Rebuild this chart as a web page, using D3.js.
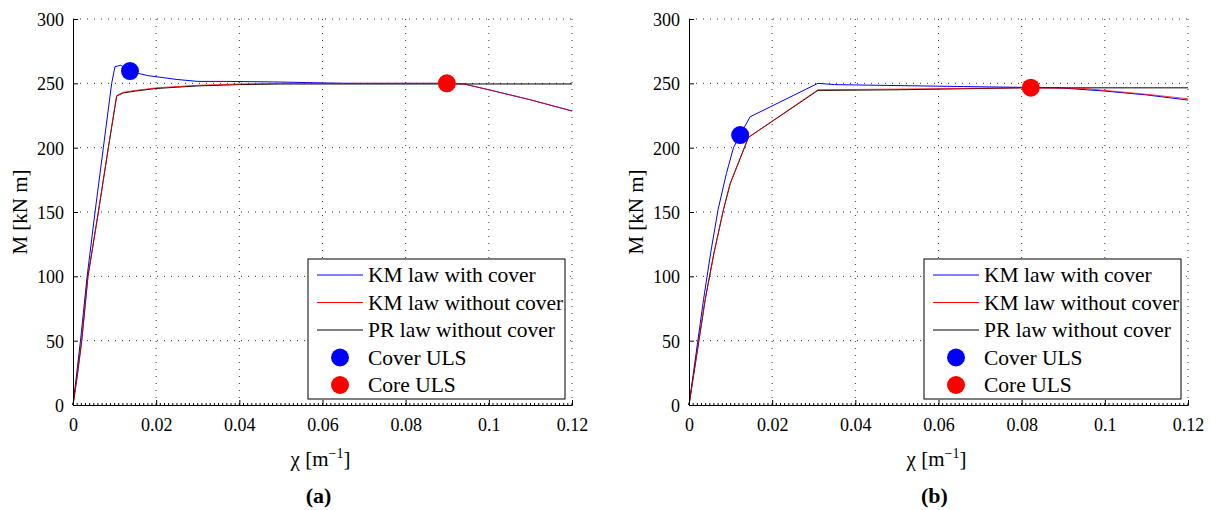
<!DOCTYPE html>
<html>
<head>
<meta charset="utf-8">
<script src="https://cdn.jsdelivr.net/npm/d3@7"></script>
<style>
body{margin:0;background:#fff;}
svg text{font-family:"Liberation Serif","Times New Roman",Times,"DejaVu Serif",serif !important;fill:#000;}
</style>
</head>
<body>
<svg id="chart" width="1211" height="510"></svg>
<script>
// axis ticks
var xTicks = [0, 0.02, 0.04, 0.06, 0.08, 0.1, 0.12];
var xTickLabels = ["0", "0.02", "0.04", "0.06", "0.08", "0.1", "0.12"];
var yTicks = [0, 50, 100, 150, 200, 250, 300];
var yTickLabels = ["0", "50", "100", "150", "200", "250", "300"];
var legendLabels = ["KM law with cover", "KM law without cover", "PR law without cover", "Cover ULS", "Core ULS"];
var panelLabels = ["(a)", "(b)"];

// panel (a)
var chiBlueA = [0, 0.0018, 0.0034, 0.0053, 0.0073, 0.0093, 0.0101, 0.0115, 0.014, 0.018, 0.025, 0.03, 0.037, 0.05, 0.065, 0.09, 0.094, 0.1, 0.11, 0.12];
var mBlueA   = [0, 50, 100, 150, 200, 250, 263, 264, 259, 256, 253, 251.5, 251.5, 251, 250, 250, 249.5, 245, 237.2, 228.5];
var chiRedA  = [0, 0.001, 0.0021, 0.0036, 0.0061, 0.0085, 0.0105, 0.012, 0.015, 0.02, 0.025, 0.03, 0.04, 0.05, 0.09, 0.094, 0.1, 0.11, 0.12];
var mRedA    = [0, 22, 50, 100, 150, 200, 240.5, 243, 244.5, 246.5, 247.5, 248.5, 249.5, 250, 250, 249.5, 245, 237.2, 228.5];
var chiBlackA = [0, 0.001, 0.0021, 0.0036, 0.0061, 0.0085, 0.0105, 0.012, 0.015, 0.02, 0.025, 0.03, 0.04, 0.05, 0.12];
var mBlackA   = [0, 22, 50, 100, 150, 200, 240, 242.5, 244, 246, 247, 248, 249, 249.5, 249.5];
var coverUlsA = [0.0137, 259.5];
var coreUlsA  = [0.0899, 250];

// panel (b)
var chiBlueB = [0, 0.0017, 0.0035, 0.0052, 0.007, 0.009, 0.0107, 0.0123, 0.0147, 0.031, 0.035, 0.045, 0.066, 0.089, 0.1, 0.11, 0.12];
var mBlueB   = [0, 40, 82, 118, 152, 180, 200, 210, 224, 250, 249, 248.5, 247.5, 246.5, 244, 241, 237];
var chiRedB  = [0, 0.002, 0.0039, 0.006, 0.0083, 0.0099, 0.0143, 0.031, 0.05, 0.08, 0.095, 0.1, 0.11, 0.12];
var mRedB    = [0, 42, 82, 118, 152, 172, 208, 245, 245.5, 246.5, 246, 244.5, 241.5, 238];
var chiBlackB = [0, 0.002, 0.0039, 0.006, 0.0083, 0.0099, 0.0143, 0.031, 0.05, 0.08, 0.12];
var mBlackB   = [0, 42, 82, 118, 152, 172, 208, 244.5, 245, 246.5, 246.5];
var coverUlsB = [0.0123, 209.8];
var coreUlsB  = [0.0822, 246.6];

var W = 499, H = 386;
var FONT = "'Liberation Serif','Times New Roman',Times,'DejaVu Serif',serif";
var svg = d3.select("#chart").attr("font-family", FONT);

function zip(xs, ys){
    return xs.map(function(v, i){ return [v, ys[i]]; });
}

function drawPanel(left, top, p){
    var g = svg.append("g").attr("transform", "translate(" + left + "," + top + ")");
    var x = d3.scaleLinear().domain([0, 0.12]).range([0, W]);
    var y = d3.scaleLinear().domain([0, 300]).range([H, 0]);

    // dotted grid
    g.selectAll("line.gx").data(xTicks.slice(1)).enter().append("line")
        .attr("x1", function(d){ return x(d); }).attr("x2", function(d){ return x(d); })
        .attr("y1", 0).attr("y2", H)
        .style("stroke", "#333").style("stroke-width", 1).style("stroke-dasharray", "1,6");
    g.selectAll("line.gy").data(yTicks.slice(1)).enter().append("line")
        .attr("x1", 0).attr("x2", W)
        .attr("y1", function(d){ return y(d); }).attr("y2", function(d){ return y(d); })
        .style("stroke", "#333").style("stroke-width", 1).style("stroke-dasharray", "1,6");

    // curves
    var line = d3.line().x(function(d){ return x(d[0]); }).y(function(d){ return y(d[1]); });
    var series = [
        {pts: zip(p.chiBlue, p.mBlue), color: "#0000ff"},
        {pts: zip(p.chiBlack, p.mBlack), color: "#000000"},
        {pts: zip(p.chiRed, p.mRed), color: "#ff0000", op: 0.75}
    ];
    g.selectAll("path.curve").data(series).enter().append("path")
        .attr("d", function(d){ return line(d.pts); })
        .style("fill", "none").style("stroke", function(d){ return d.color; })
        .style("stroke-opacity", function(d){ return d.op || 1; })
        .style("stroke-width", 1);

    // ULS points
    g.selectAll("circle.uls").data([{p: p.cover, c: "#0000ff"}, {p: p.core, c: "#ff0000"}]).enter()
        .append("circle")
        .attr("cx", function(d){ return x(d.p[0]); })
        .attr("cy", function(d){ return y(d.p[1]); })
        .attr("r", 9)
        .style("fill", function(d){ return d.c; });

    // axes
    var xAxis = d3.axisBottom(x).tickValues(xTicks).tickSize(-5)
        .tickFormat(function(d, i){ return xTickLabels[i]; });
    var gx = g.append("g").attr("transform", "translate(0," + H + ")").call(xAxis);
    gx.attr("font-family", FONT).attr("font-size", 18);
    gx.selectAll("text").attr("y", 13);
    var minor = d3.range(0, 0.1205, 0.001);
    gx.selectAll("line.minor").data(minor).enter().append("line")
        .attr("x1", function(d){ return x(d); }).attr("x2", function(d){ return x(d); })
        .attr("y1", 0).attr("y2", -2).style("stroke", "#000");

    var yAxis = d3.axisLeft(y).tickValues(yTicks).tickSize(-5)
        .tickFormat(function(d, i){ return yTickLabels[i]; });
    var gy = g.append("g").call(yAxis);
    gy.attr("font-family", FONT).attr("font-size", 18);
    gy.selectAll("text").attr("x", -9).attr("dy", "0.36em");
    g.selectAll(".domain").style("stroke", "#000");
    g.selectAll(".tick line").style("stroke", "#000");

    // axis labels
    var xl = g.append("text").attr("x", W / 2 - 2).attr("y", 447)
        .attr("text-anchor", "middle").attr("font-size", 21);
    xl.append("tspan").text("\u03c7 [m");
    xl.append("tspan").attr("dy", -8).attr("font-size", 14).text("\u22121");
    xl.append("tspan").attr("dy", 8).text("]");

    g.append("text").attr("transform", "translate(-46," + (H / 2) + ") rotate(-90)")
        .attr("text-anchor", "middle").attr("font-size", 21).text("M [kN m]");

    g.append("text").attr("x", W / 2 - 4).attr("y", 484).attr("text-anchor", "middle")
        .attr("font-size", 22).attr("font-weight", "bold").text(p.label);

    // legend
    var lg = g.append("g").attr("transform", "translate(235,240)");
    lg.append("rect").attr("width", 257).attr("height", 140)
        .style("fill", "#fff").style("stroke", "#000").style("stroke-width", 1);
    var colors = ["#0000ff", "#ff0000", "#000000", "#0000ff", "#ff0000"];
    legendLabels.forEach(function(lab, i){
        var cy = 16 + i * 27.5;
        if(i < 3){
            lg.append("line").attr("x1", 9).attr("x2", 55).attr("y1", cy).attr("y2", cy)
                .style("stroke", colors[i]).style("stroke-width", 1);
        }else{
            lg.append("circle").attr("cx", 32).attr("cy", cy).attr("r", 9).style("fill", colors[i]);
        }
        lg.append("text").attr("x", 60).attr("y", cy + 7).attr("font-size", 21.5).text(lab);
    });
}

drawPanel(73, 19, {chiBlue: chiBlueA, mBlue: mBlueA, chiRed: chiRedA, mRed: mRedA,
    chiBlack: chiBlackA, mBlack: mBlackA, cover: coverUlsA, core: coreUlsA, label: panelLabels[0]});
drawPanel(689, 19, {chiBlue: chiBlueB, mBlue: mBlueB, chiRed: chiRedB, mRed: mRedB,
    chiBlack: chiBlackB, mBlack: mBlackB, cover: coverUlsB, core: coreUlsB, label: panelLabels[1]});
</script>
</body>
</html>
